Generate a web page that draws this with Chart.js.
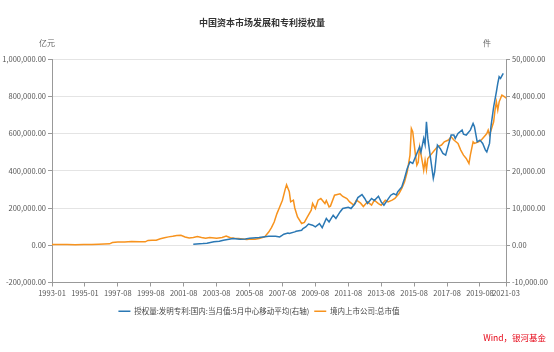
<!DOCTYPE html>
<html><head><meta charset="utf-8">
<script src="https://cdn.jsdelivr.net/npm/chart.js@4/dist/chart.umd.min.js"></script>
<style>html,body{margin:0;padding:0;background:#fff}#wrap{width:554px;height:352px;position:relative}</style>
</head><body><div id="wrap"><canvas id="c" width="554" height="352"></canvas></div>
<script>
const titleText = '中国资本市场发展和专利授权量';
const leftUnit = '亿元';
const rightUnit = '件';
const sourceText = 'Wind，银河基金';
const seriesNames = ['授权量:发明专利:国内:当月值:5月中心移动平均(右轴)', '境内上市公司:总市值'];
const xTickLabels = ['1993-01','1995-01','1997-08','1999-08','2001-08','2003-08','2005-08','2007-08','2009-08','2011-08','2013-08','2015-08','2017-08','2019-08','2021-03'];
const gapMonths = ['1995-06','1995-07','1995-08','1995-09','1995-10','1995-11','1995-12'];
const leftTicks = [-200000, 0, 200000, 400000, 600000, 800000, 1000000];
const rightTicks = [-10000, 0, 10000, 20000, 30000, 40000, 50000];

const mcapDates = ['1993-01','1993-06','1993-12','1994-06','1994-12','1995-05','1996-01','1996-06','1996-10','1997-02','1997-04','1997-08','1998-01','1998-06','1998-12','1999-04','1999-06','1999-09','1999-12','2000-03','2000-06','2000-09','2000-12','2001-03','2001-06','2001-09','2001-12','2002-03','2002-06','2002-09','2002-12','2003-03','2003-08','2003-12','2004-03','2004-06','2004-09','2004-12','2005-03','2005-06','2005-09','2005-12','2006-03','2006-07','2006-10','2006-12','2007-02','2007-04','2007-06','2007-08','2007-10','2007-11','2008-01','2008-02','2008-04','2008-05','2008-07','2008-10','2008-12','2009-02','2009-05','2009-06','2009-08','2009-10','2009-12','2010-03','2010-04','2010-06','2010-07','2010-10','2011-02','2011-04','2011-07','2011-09','2011-12','2012-02','2012-05','2012-07','2012-10','2013-01','2013-03','2013-06','2013-08','2013-11','2014-01','2014-04','2014-06','2014-09','2014-11','2015-01','2015-03','2015-05','2015-06','2015-07','2015-09','2015-10','2015-11','2015-12','2016-02','2016-03','2016-04','2016-05','2016-06','2016-08','2016-11','2017-01','2017-04','2017-06','2017-09','2017-11','2018-01','2018-04','2018-06','2018-08','2018-10','2018-12','2019-01','2019-03','2019-04','2019-07','2019-09','2019-12','2020-01','2020-02','2020-03','2020-06','2020-07','2020-08','2020-09','2020-10','2020-12','2021-02','2021-03'];
const mcapValues = [3500,4200,3900,3300,3700,3500,3900,5500,6500,7500,14500,17000,17500,19500,19000,18500,26000,27500,27000,35000,40000,45000,48000,52000,54000,44000,39000,42000,47000,42000,38000,41000,38000,42000,49000,40000,37000,36000,34000,31000,33000,32500,36000,45000,71000,95000,125000,170000,205000,242000,300000,325000,287000,233000,242000,200000,152000,117000,123000,150000,188000,224000,197000,242000,251000,224000,240000,206000,210000,269000,276000,262000,251000,233000,215000,242000,226000,208000,233000,215000,242000,224000,215000,242000,233000,242000,251000,278000,305000,340000,394000,484000,627000,610000,484000,430000,446000,528000,448000,403000,455000,405000,466000,484000,511000,528000,538000,555000,565000,582000,565000,547000,511000,484000,466000,439000,484000,555000,547000,555000,565000,591000,600000,618000,591000,663000,726000,770000,726000,770000,806000,797000,790000];

const patentDates = ['2002-03','2002-10','2003-01','2003-06','2003-10','2004-01','2004-08','2005-01','2005-05','2005-08','2006-03','2006-10','2007-03','2007-06','2007-08','2007-09','2007-12','2008-01','2008-05','2008-06','2008-10','2008-11','2009-01','2009-03','2009-06','2009-08','2009-11','2010-01','2010-04','2010-06','2010-09','2010-11','2011-02','2011-04','2011-08','2011-10','2012-01','2012-03','2012-06','2012-08','2012-10','2013-01','2013-03','2013-06','2013-08','2013-10','2014-01','2014-03','2014-05','2014-07','2014-08','2014-09','2014-11','2015-01','2015-03','2015-05','2015-07','2015-09','2015-12','2016-01','2016-03','2016-04','2016-05','2016-06','2016-08','2016-10','2016-11','2017-01','2017-03','2017-05','2017-07','2017-08','2017-11','2018-01','2018-02','2018-04','2018-07','2018-08','2018-10','2019-01','2019-03','2019-04','2019-06','2019-08','2019-10','2019-12','2020-01','2020-03','2020-04','2020-06','2020-08','2020-09','2020-10','2020-11','2021-01'];
const patentValues = [300,450,550,950,1100,1340,1800,1610,1700,1880,2060,2420,2420,2230,2690,2960,3300,3140,3580,3760,4030,4490,4920,5700,5380,4920,5820,4700,7180,6260,8060,7180,8950,9860,10200,9860,11200,12800,13600,12550,11200,12550,12000,13170,11640,10750,12400,13440,13890,13500,14330,14780,15670,17930,20620,22400,21960,23730,26420,25000,28680,27000,33140,28680,23300,17930,19700,26880,25990,24650,24190,25540,29570,29570,28680,30020,30910,29800,29570,30910,32710,31800,27770,28220,27340,25540,25080,27340,31800,37170,41210,43470,45240,44800,46150];

// monthly category axis
const categories = [];
for (let y = 1993; y <= 2021; y++) {
  for (let m = 1; m <= 12; m++) {
    const s = y + '-' + String(m).padStart(2, '0');
    if (s > '2021-03') break;
    if (gapMonths.includes(s)) continue;
    categories.push(s);
  }
}
const toPoints = (d, v) => d.map((x, i) => ({x, y: v[i]}));
const fmt = v => v.toLocaleString('en-US', {minimumFractionDigits: 2, maximumFractionDigits: 2});
const FONT = '"Noto Sans CJK SC", "Noto Sans", sans-serif';
const BLUE = '#2B78B4', ORANGE = '#F7931E';

const textPlugin = {
  id: 'texts',
  afterDraw(chart) {
    const ctx = chart.ctx;
    ctx.save();
    ctx.textBaseline = 'middle';
    ctx.textAlign = 'center';
    ctx.fillStyle = '#333';
    ctx.font = 'bold 9px ' + FONT;
    ctx.fillText(titleText, 262, 23);
    ctx.font = '8px ' + FONT;
    ctx.fillStyle = '#666';
    ctx.fillText(leftUnit, 47, 43);
    ctx.fillText(rightUnit, 487, 43);
    ctx.textAlign = 'right';
    ctx.fillStyle = '#E60012';
    ctx.font = '8.5px ' + FONT;
    ctx.fillText(sourceText, 546, 338);
    ctx.restore();
  }
};
const legendShift = {
  id: 'legendShift',
  afterLayout(chart) {
    const l = chart.legend;
    if (l) { l.left -= 18; l.right -= 18; }
  }
};

new Chart(document.getElementById('c'), {
  type: 'line',
  data: {
    labels: categories,
    datasets: [
      {label: seriesNames[0], data: toPoints(patentDates, patentValues), yAxisID: 'y1', borderColor: BLUE, backgroundColor: BLUE, borderWidth: 1.5, pointRadius: 0, tension: 0},
      {label: seriesNames[1], data: toPoints(mcapDates, mcapValues), yAxisID: 'y', borderColor: ORANGE, backgroundColor: ORANGE, borderWidth: 1.5, pointRadius: 0, tension: 0}
    ]
  },
  options: {
    responsive: false,
    animation: false,
    devicePixelRatio: 1,
    layout: {padding: {top: 59, left: 0, right: 0, bottom: 27}},
    plugins: {
      title: {display: false},
      tooltip: {enabled: false},
      legend: {
        position: 'bottom',
        labels: {usePointStyle: true, pointStyle: 'line', pointStyleWidth: 12, boxHeight: 8, padding: 5, color: '#444', font: {family: FONT, size: 7.5}}
      }
    },
    scales: {
      x: {
        type: 'category',
        offset: false,
        afterBuildTicks: s => { s.ticks = s.ticks.filter(t => xTickLabels.includes(categories[t.value])); },
        afterFit: s => { s.height = 20; },
        ticks: {autoSkip: false, maxRotation: 0, minRotation: 0, padding: 2, color: '#555', font: {family: FONT, size: 7.5}},
        grid: {display: true, drawOnChartArea: false, tickLength: 4, tickColor: '#999'},
        border: {color: '#999'}
      },
      y: {
        position: 'left',
        min: -200000, max: 1000000,
        afterBuildTicks: s => { s.ticks = leftTicks.map(v => ({value: v})); },
        afterFit: s => { s.width = 52; },
        ticks: {callback: v => fmt(v), padding: 2, color: '#555', font: {family: FONT, size: 7.5}},
        grid: {color: '#e4e4e4', tickColor: '#999', tickLength: 4},
        border: {color: '#999'}
      },
      y1: {
        position: 'right',
        min: -10000, max: 50000,
        afterBuildTicks: s => { s.ticks = rightTicks.map(v => ({value: v})); },
        afterFit: s => { s.width = 48; },
        ticks: {callback: v => fmt(v), padding: 2, color: '#555', font: {family: FONT, size: 7.5}},
        grid: {drawOnChartArea: false, tickColor: '#999', tickLength: 4},
        border: {color: '#999'}
      }
    }
  },
  plugins: [textPlugin, legendShift]
});
</script></body></html>
